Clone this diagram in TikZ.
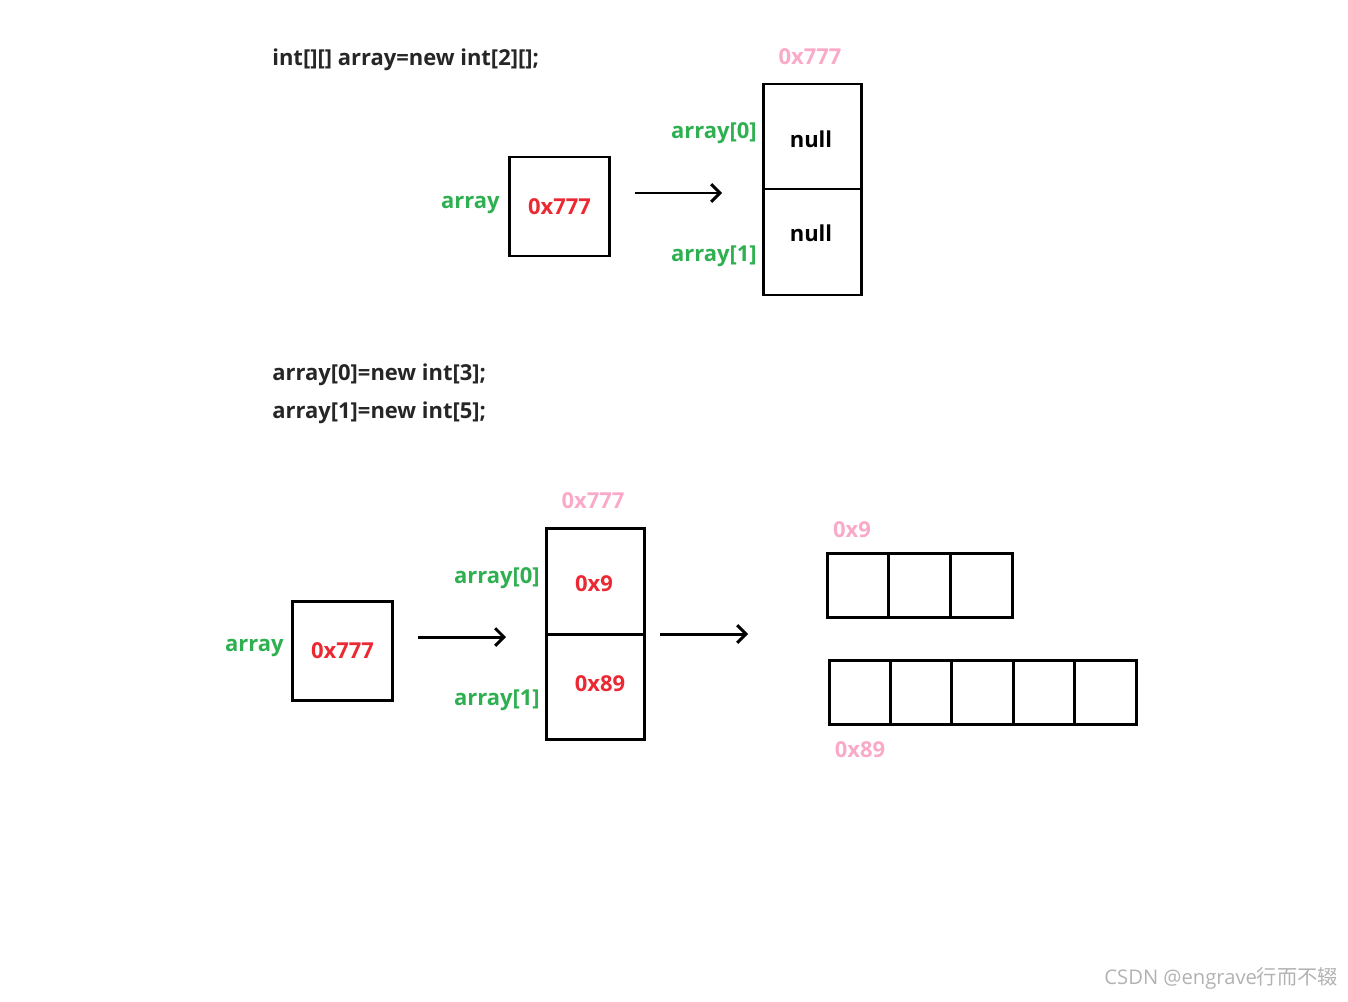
\documentclass[tikz,border=0pt]{standalone}
\usepackage{fontspec}
\setmainfont{Open Sans}
\newfontfamily\cjk{Noto Sans CJK SC}
\usetikzlibrary{positioning,arrows.meta}
\definecolor{lblgreen}{RGB}{46,176,80}
\definecolor{valred}{RGB}{236,40,50}
\definecolor{addrpink}{RGB}{250,170,200}
\begin{document}
\begin{tikzpicture}[x=0.02cm,y=-0.02cm
% text styles
		, code/.style={anchor=west
							    , font=\fontsize{12.5}{15}\selectfont\bfseries
							    , text=black!85, inner sep=0pt}
		, lbl/.style={anchor=east
							    , font=\fontsize{12.5}{15}\selectfont\bfseries
							    , text=lblgreen, inner sep=0pt}
		, val/.style={font=\fontsize{12.5}{15}\selectfont\bfseries
							    , text=valred}
		, addr/.style={font=\fontsize{12.5}{15}\selectfont\bfseries
							    , text=addrpink, inner sep=0pt}
% boxes and arrows
		, cell/.style={draw=black, line width=1.7pt}
		, ptr/.style={line width=1.7pt, -{Straight Barb[length=5pt,width=10pt]}}
	]
	\useasboundingbox (0,0) rectangle (1348,1001);
%% first step
	\node [code] (c1) at (272,60) {int[][] array=new int[2][];};
	\node [cell, minimum width=100*0.02cm, minimum height=99*0.02cm] (a1) at (559.5,206.5) {};
	\node [val] (v1) at (a1.center) {0x777};
	\node [lbl] (l1) at (500,205) {array};
	\draw [cell] (763,84) rectangle (861,295);
	\coordinate (s1t) at (763,189);
	\coordinate (s1r) at (861,189);
	\draw [cell] (s1t) -- (s1r);
	\node [addr] (p1) at (810,57) {0x777};
	\node [font=\fontsize{12.5}{15}\selectfont\bfseries] (n1) at (811,139) {null};
	\node [font=\fontsize{12.5}{15}\selectfont\bfseries] (n2) at (811,233) {null};
	\node [lbl] (l2) at (757,133) {array[0]};
	\node [lbl] (l3) at (757,256) {array[1]};
	\coordinate (e1a) at (635,193);
	\coordinate (e1b) at (722,193);
	\draw [ptr] (e1a) -- (e1b);
%% second step
	\node [code] (c2) at (272,375) {array[0]=new int[3];};
	\node [code] (c3) at (272,413) {array[1]=new int[5];};
	\node [cell, minimum width=100*0.02cm, minimum height=99*0.02cm] (a2) at (342.5,650.5) {};
	\node [val] (v2) at (a2.center) {0x777};
	\node [lbl] (l4) at (284,648) {array};
	\draw [cell] (546,528) rectangle (644,739);
	\coordinate (s2l) at (546,634);
	\coordinate (s2r) at (644,634);
	\draw [cell] (s2l) -- (s2r);
	\node [addr] (p2) at (593,501) {0x777};
	\node [val] (v3) at (594,584) {0x9};
	\node [val] (v4) at (600,684) {0x89};
	\node [lbl] (l5) at (540,578) {array[0]};
	\node [lbl] (l6) at (540,700) {array[1]};
	\coordinate (e2a) at (418,637);
	\coordinate (e2b) at (506,637);
	\draw [ptr] (e2a) -- (e2b);
	\coordinate (e3a) at (660,634);
	\coordinate (e3b) at (748,634);
	\draw [ptr] (e3a) -- (e3b);
%% int arrays
	\node [addr] (p3) at (852,530) {0x9};
	\foreach \i in {0,1,2}
		\draw [cell] (827+\i*61.7,553) rectangle (827+\i*61.7+61.7,617);
	\node [addr] (p4) at (860,750) {0x89};
	\foreach \i in {0,...,4}
		\draw [cell] (829+\i*61.4,660) rectangle (829+\i*61.4+61.4,724);
%% watermark
	\node [anchor=east, text=black!30, font=\fontsize{11.5}{14}\selectfont] (wm) at (1344,978) {CSDN @engrave{\cjk 行而不辍}};
\end{tikzpicture}
\end{document}
